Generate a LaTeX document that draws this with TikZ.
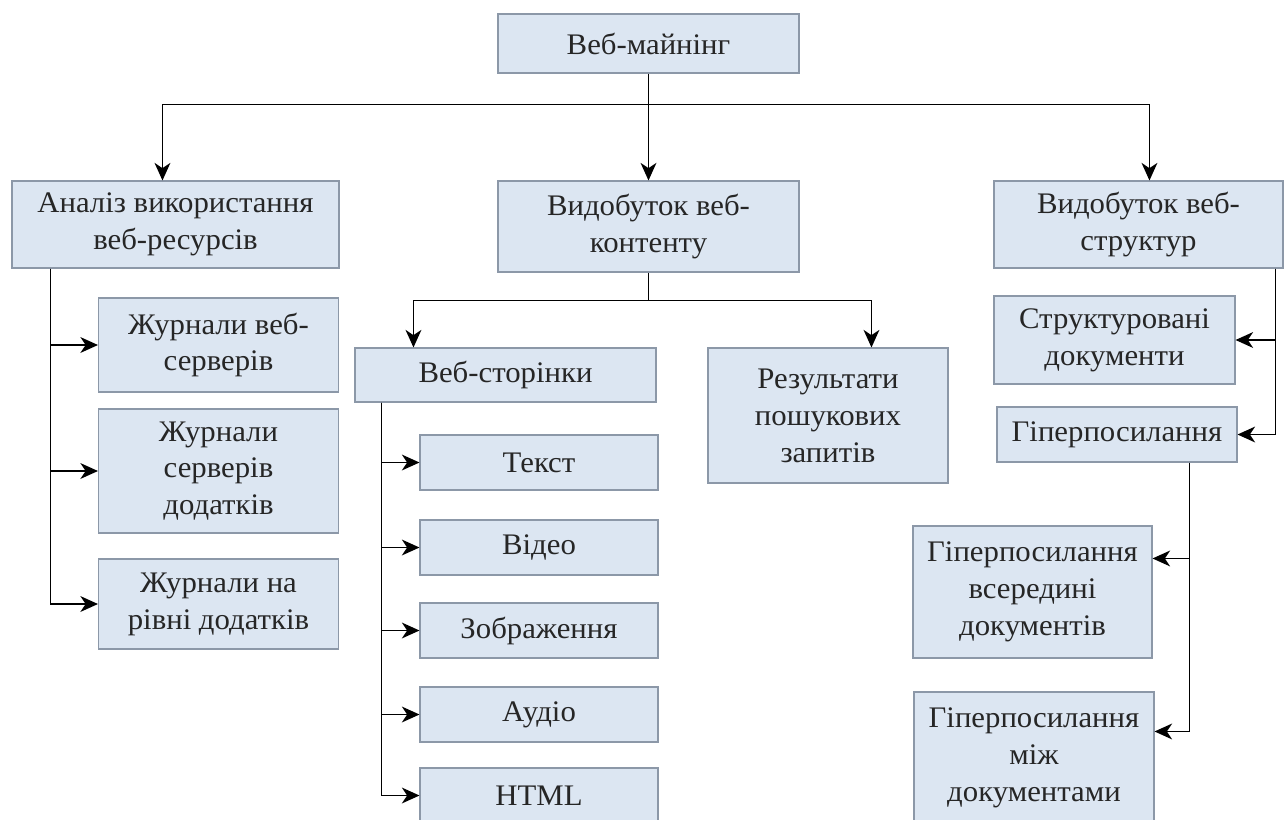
\documentclass[tikz,border=0pt]{standalone}
\usepackage{fontspec}
\setmainfont[FakeStretch=1.03]{Liberation Serif}
\usetikzlibrary{calc, arrows.meta}
\definecolor{boxfill}{RGB}{220,230,242}
\definecolor{boxline}{RGB}{140,152,168}

\begin{document}
\begin{tikzpicture}[x=0.02cm, y=-0.02cm,
    box/.style={draw=boxline, fill=boxfill, line width=0.6pt, align=center, inner sep=0pt,
        text=black!85, font=\fontsize{17}{21}\selectfont},
    sz/.style 2 args={minimum width=#1*0.02cm, minimum height=#2*0.02cm},
    arr/.style={-{Stealth[length=10pt,width=9pt,inset=3pt]}, line width=0.9pt}]
    \useasboundingbox (0,0) rectangle (1286,819);
    \fill[white] (0,0) rectangle (1286,819);

    \node[box, sz={301}{59}] (mining) at (648.5,43.5) {Веб-майнінг};
    \node[box, sz={327}{87}] (usage) at (175.5,224.5) {Аналіз використання\\веб-ресурсів};
    \node[box, sz={301}{91}] (content) at (648.5,226.5) {Видобуток веб-\\контенту};
    \node[box, sz={289}{87}] (structure) at (1138.5,224.5) {Видобуток веб-\\структур};

    \draw[line width=0.9pt] (mining.south) -- ++(0,31) coordinate (split);
    \draw[arr] (split) -| ($(usage.north west)+(151,0)$);
    \draw[arr] (split) -- (content.north);
    \draw[arr] (split) -| ($(structure.north west)+(156,0)$);

    \node[box, sz={240}{94}] (logweb) at (218.5,345) {Журнали веб-\\серверів};
    \node[box, sz={240}{124}] (logapp) at (218.5,471) {Журнали\\серверів\\додатків};
    \node[box, sz={240}{90}] (loglevel) at (218.5,604) {Журнали на\\рівні додатків};
    \foreach \n in {logweb,logapp,loglevel}
        \draw[arr] ($(usage.south west)+(39,0)$) |- (\n.west);

    \node[box, sz={301}{54}] (pages) at (505.5,375) {Веб-сторінки};
    \node[box, sz={240}{135}] (results) at (828,415.5) {Результати\\пошукових\\запитів};
    \draw[line width=0.9pt] (content.south) -- ++(0,28) coordinate (fork);
    \draw[arr] (fork) -| ($(pages.north west)+(59,0)$);
    \draw[arr] (fork) -| ($(results.north west)+(164,0)$);

    \foreach \n/\t/\y in {txt/Текст/462.5, video/Відео/547.5, image/Зображення/630.5,
        audio/Аудіо/714.5, html/HTML/795.5}{
        \node[box, sz={238}{55}] (\n) at (539,\y) {\t};
        \draw[arr] ($(pages.south west)+(27,0)$) |- (\n.west);
    }

    \node[box, sz={241}{88}] (sdoc) at (1114.5,340) {Структуровані\\документи};
    \node[box, sz={240}{55}] (hyp) at (1117,434.5) {Гіперпосилання};
    \foreach \n in {sdoc,hyp}
        \draw[arr] ($(structure.south east)+(-8,0)$) |- (\n.east);

    \node[box, sz={239}{132}] (hin) at (1032.5,592) {Гіперпосилання\\всередині\\документів};
    \node[box, sz={240}{132}] (hbt) at (1034,758) {Гіперпосилання\\між\\документами};
    \draw[arr] ($(hyp.south west)+(193,0)$) |- ($(hin.north east)+(0,33)$);
    \draw[arr] ($(hyp.south west)+(193,0)$) |- ($(hbt.north east)+(0,40)$);
\end{tikzpicture}
\end{document}
